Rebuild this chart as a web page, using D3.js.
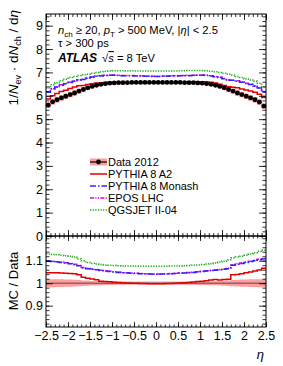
<!DOCTYPE html>
<html>
<head>
<meta charset="utf-8">
<script src="https://cdn.jsdelivr.net/npm/d3@7"></script>
<style>
  body { margin: 0; background: #fff; }
  svg text { font-family: "Liberation Sans", Arial, Helvetica, sans-serif; }
</style>
</head>
<body>
<div id="chart"></div>
<script>
// Bin centres in eta (bins of 0.1)
const etaBins = [-2.45, -2.35, -2.25, -2.15, -2.05, -1.95, -1.85, -1.75, -1.65, -1.55,
  -1.45, -1.35, -1.25, -1.15, -1.05, -0.95, -0.85, -0.75, -0.65, -0.55,
  -0.45, -0.35, -0.25, -0.15, -0.05, 0.05, 0.15, 0.25, 0.35, 0.45,
  0.55, 0.65, 0.75, 0.85, 0.95, 1.05, 1.15, 1.25, 1.35, 1.45,
  1.55, 1.65, 1.75, 1.85, 1.95, 2.05, 2.15, 2.25, 2.35, 2.45];

// Data 2012 and relative uncertainty
const data2012 = [5.60, 5.74, 5.83, 5.91, 5.98, 6.05, 6.12, 6.20, 6.27, 6.34,
  6.40, 6.45, 6.49, 6.52, 6.54, 6.55, 6.56, 6.56, 6.56, 6.57,
  6.57, 6.57, 6.57, 6.57, 6.57, 6.57, 6.57, 6.57, 6.57, 6.57,
  6.57, 6.56, 6.56, 6.56, 6.55, 6.54, 6.52, 6.49, 6.45, 6.40,
  6.34, 6.27, 6.20, 6.12, 6.05, 5.98, 5.91, 5.83, 5.73, 5.56];
const dataErr = [0.018, 0.018, 0.017, 0.017, 0.016, 0.016, 0.015, 0.014, 0.012, 0.011,
  0.010, 0.009, 0.009, 0.008, 0.008, 0.008, 0.007, 0.007, 0.007, 0.007,
  0.007, 0.007, 0.007, 0.007, 0.007, 0.007, 0.007, 0.007, 0.007, 0.007,
  0.007, 0.007, 0.007, 0.007, 0.008, 0.008, 0.008, 0.009, 0.009, 0.010,
  0.011, 0.012, 0.014, 0.015, 0.016, 0.016, 0.017, 0.017, 0.018, 0.018];

// MC predictions (top panel)
const pythiaA2 = [5.86, 6.00, 6.10, 6.18, 6.24, 6.31, 6.38, 6.43, 6.44, 6.48,
  6.52, 6.55, 6.55, 6.57, 6.58, 6.58, 6.58, 6.57, 6.57, 6.57,
  6.57, 6.56, 6.56, 6.56, 6.56, 6.56, 6.56, 6.56, 6.56, 6.57,
  6.58, 6.57, 6.58, 6.59, 6.60, 6.60, 6.59, 6.58, 6.55, 6.49,
  6.44, 6.39, 6.37, 6.34, 6.29, 6.25, 6.21, 6.15, 6.07, 5.93];
const pythiaMonash = [6.15, 6.29, 6.38, 6.45, 6.52, 6.57, 6.62, 6.68, 6.70, 6.75,
  6.80, 6.84, 6.85, 6.87, 6.88, 6.88, 6.87, 6.86, 6.86, 6.86,
  6.85, 6.85, 6.84, 6.84, 6.83, 6.83, 6.84, 6.84, 6.85, 6.85,
  6.86, 6.86, 6.86, 6.87, 6.88, 6.88, 6.87, 6.85, 6.82, 6.78,
  6.73, 6.67, 6.66, 6.62, 6.58, 6.53, 6.48, 6.41, 6.33, 6.16];
const eposLHC = [6.16, 6.30, 6.39, 6.47, 6.53, 6.58, 6.63, 6.69, 6.71, 6.76,
  6.80, 6.85, 6.87, 6.88, 6.89, 6.89, 6.88, 6.87, 6.87, 6.87,
  6.86, 6.86, 6.85, 6.85, 6.84, 6.84, 6.85, 6.85, 6.86, 6.86,
  6.87, 6.87, 6.88, 6.88, 6.89, 6.89, 6.88, 6.86, 6.83, 6.79,
  6.74, 6.68, 6.67, 6.64, 6.60, 6.54, 6.49, 6.42, 6.34, 6.17];
const qgsjet = [6.33, 6.47, 6.56, 6.64, 6.71, 6.78, 6.83, 6.87, 6.90, 6.92,
  6.96, 7.00, 7.03, 7.05, 7.06, 7.07, 7.07, 7.07, 7.06, 7.07,
  7.06, 7.06, 7.06, 7.06, 7.06, 7.06, 7.06, 7.06, 7.06, 7.06,
  7.07, 7.07, 7.08, 7.08, 7.08, 7.08, 7.07, 7.05, 7.03, 7.00,
  6.96, 6.92, 6.89, 6.83, 6.78, 6.72, 6.68, 6.62, 6.54, 6.38];

// MC / Data (bottom panel)
const ratioA2 = [1.047, 1.046, 1.046, 1.045, 1.044, 1.043, 1.042, 1.038, 1.026, 1.022,
  1.019, 1.015, 1.009, 1.007, 1.006, 1.004, 1.003, 1.002, 1.001, 1.000,
  1.000, 0.999, 0.999, 0.998, 0.998, 0.998, 0.998, 0.999, 0.999, 1.000,
  1.001, 1.002, 1.003, 1.005, 1.007, 1.009, 1.011, 1.014, 1.016, 1.014,
  1.016, 1.018, 1.037, 1.039, 1.042, 1.046, 1.050, 1.054, 1.059, 1.066];
const ratioMonash = [1.098, 1.096, 1.094, 1.092, 1.090, 1.086, 1.082, 1.078, 1.068, 1.064,
  1.062, 1.060, 1.056, 1.054, 1.052, 1.050, 1.048, 1.046, 1.045, 1.044,
  1.043, 1.042, 1.041, 1.041, 1.040, 1.040, 1.041, 1.041, 1.042, 1.043,
  1.044, 1.045, 1.046, 1.048, 1.050, 1.052, 1.054, 1.056, 1.058, 1.060,
  1.062, 1.064, 1.080, 1.084, 1.088, 1.092, 1.096, 1.100, 1.104, 1.108];
const ratioEpos = [1.100, 1.097, 1.095, 1.094, 1.091, 1.088, 1.084, 1.079, 1.070, 1.066,
  1.063, 1.061, 1.058, 1.055, 1.053, 1.051, 1.049, 1.047, 1.046, 1.045,
  1.044, 1.043, 1.042, 1.042, 1.041, 1.041, 1.042, 1.042, 1.043, 1.044,
  1.045, 1.046, 1.048, 1.049, 1.051, 1.053, 1.055, 1.057, 1.059, 1.061,
  1.063, 1.066, 1.081, 1.086, 1.090, 1.094, 1.098, 1.102, 1.106, 1.110];
const ratioQgsjet = [1.130, 1.128, 1.126, 1.124, 1.122, 1.120, 1.116, 1.108, 1.100, 1.092,
  1.088, 1.085, 1.083, 1.081, 1.080, 1.079, 1.078, 1.077, 1.076, 1.076,
  1.075, 1.075, 1.075, 1.075, 1.075, 1.075, 1.075, 1.075, 1.076, 1.076,
  1.077, 1.078, 1.079, 1.080, 1.081, 1.083, 1.085, 1.087, 1.090, 1.094,
  1.098, 1.104, 1.112, 1.116, 1.120, 1.124, 1.130, 1.136, 1.142, 1.148];

// Tick values
const etaTicks = [-2.5, -2, -1.5, -1, -0.5, 0, 0.5, 1, 1.5, 2, 2.5];
const yTicks = [0, 1, 2, 3, 4, 5, 6, 7, 8, 9];
const ratioTicks = [0.9, 1, 1.1];

const legendLabels = ["Data 2012", "PYTHIA 8 A2", "PYTHIA 8 Monash", "EPOS LHC", "QGSJET II-04"];

const colors = {
  band: "#ff9d9d",
  a2: "#e00000",
  monash: "#2a2aff",
  epos: "#e000e0",
  qgs: "#22aa22",
};

const mcSeries = [
  { name: legendLabels[1], top: pythiaA2, ratio: ratioA2, color: colors.a2, dash: null },
  { name: legendLabels[2], top: pythiaMonash, ratio: ratioMonash, color: colors.monash, dash: "6,2,1.5,2" },
  { name: legendLabels[3], top: eposLHC, ratio: ratioEpos, color: colors.epos, dash: "4,1.3,1.2,1.3,1.2,1.3" },
  { name: legendLabels[4], top: qgsjet, ratio: ratioQgsjet, color: colors.qgs, dash: "1.3,1.3" },
];

const width = 283, height = 366;
const left = 46, right = 266;
const topY0 = 14, topY1 = 236, botY1 = 327;
const halfBin = 0.05;

const svg = d3.select("#chart").append("svg")
  .attr("width", width)
  .attr("height", height);

const x = d3.scaleLinear().domain([-2.5, 2.5]).range([left, right]);
const y = d3.scaleLinear().domain([0, 9.5]).range([topY1, topY0]);
const yr = d3.scaleLinear().domain([0.805, 1.21]).range([botY1, topY1]);

const fmt = d => d3.format("~g")(d);

// step path through bin edges
function stepPoints(values) {
  const pts = [];
  etaBins.forEach((c, i) => {
    pts.push([c - halfBin, values[i]]);
    pts.push([c + halfBin, values[i]]);
  });
  return pts;
}

// band points: [eta, low, high]
function bandPoints(centre, err) {
  const pts = [];
  etaBins.forEach((c, i) => {
    const lo = centre[i] * (1 - err[i]), hi = centre[i] * (1 + err[i]);
    pts.push([c - halfBin, lo, hi]);
    pts.push([c + halfBin, lo, hi]);
  });
  return pts;
}

function drawTicks(g, yScale, y0, y1, majorY, minorStep, yMin, yMax, xLen, showYLabels) {
  // x ticks, bottom and top edges
  const xMinor = d3.range(-2.5, 2.5001, 0.1);
  g.append("g").attr("transform", `translate(0,${y1})`)
    .call(d3.axisBottom(x).tickValues(xMinor).tickSize(-xLen / 2).tickFormat(""));
  g.append("g").attr("transform", `translate(0,${y1})`)
    .call(d3.axisBottom(x).tickValues(etaTicks).tickSize(-xLen).tickFormat(""));
  g.append("g").attr("transform", `translate(0,${y0})`)
    .call(d3.axisTop(x).tickValues(xMinor).tickSize(-xLen / 2).tickFormat(""));
  g.append("g").attr("transform", `translate(0,${y0})`)
    .call(d3.axisTop(x).tickValues(etaTicks).tickSize(-xLen).tickFormat(""));

  const yMinor = d3.range(yMin, yMax + 1e-6, minorStep);
  g.append("g").attr("transform", `translate(${left},0)`)
    .call(d3.axisLeft(yScale).tickValues(yMinor).tickSize(-3.5).tickFormat(""));
  g.append("g").attr("class", "ylab").attr("transform", `translate(${left},0)`)
    .call(d3.axisLeft(yScale).tickValues(majorY).tickSize(-7).tickPadding(3)
      .tickFormat(showYLabels ? fmt : ""));
  g.append("g").attr("transform", `translate(${right},0)`)
    .call(d3.axisRight(yScale).tickValues(yMinor).tickSize(-3.5).tickFormat(""));
  g.append("g").attr("transform", `translate(${right},0)`)
    .call(d3.axisRight(yScale).tickValues(majorY).tickSize(-7).tickFormat(""));

  g.selectAll(".domain").remove();
  g.selectAll(".tick line").attr("stroke", "#000").attr("stroke-width", 0.8);
  g.selectAll(".ylab text").attr("font-size", 12.5).attr("fill", "#000");
}

// ---------- top panel ----------
const topG = svg.append("g");

// data uncertainty band
topG.append("path")
  .attr("d", d3.area().x(d => x(d[0])).y0(d => y(d[1])).y1(d => y(d[2]))(bandPoints(data2012, dataErr)))
  .attr("fill", colors.band)
  .attr("stroke", colors.band)
  .attr("stroke-width", 0.8);

const line = d3.line().x(d => x(d[0])).y(d => y(d[1]));

mcSeries.slice().reverse().forEach(s => {
  topG.append("path")
    .attr("d", line(stepPoints(s.top)))
    .attr("fill", "none")
    .attr("stroke", s.color)
    .attr("stroke-width", 1.5)
    .attr("stroke-dasharray", s.dash);
});

// data points
topG.append("g").selectAll("line")
  .data(etaBins)
  .join("line")
  .attr("x1", d => x(d - halfBin))
  .attr("x2", d => x(d + halfBin))
  .attr("y1", (d, i) => y(data2012[i]))
  .attr("y2", (d, i) => y(data2012[i]))
  .attr("stroke", "#000")
  .attr("stroke-width", 1);
topG.append("g").selectAll("circle")
  .data(etaBins)
  .join("circle")
  .attr("cx", d => x(d))
  .attr("cy", (d, i) => y(data2012[i]))
  .attr("r", 2.4)
  .attr("fill", "#000");

drawTicks(topG, y, topY0, topY1, yTicks, 0.2, 0, 9.4, 6, true);

topG.append("rect")
  .attr("x", left).attr("y", topY0)
  .attr("width", right - left).attr("height", topY1 - topY0)
  .attr("fill", "none").attr("stroke", "#000").attr("stroke-width", 1);

// annotations
const ann = topG.append("g").attr("font-size", 11.2).attr("fill", "#000");
const t1 = ann.append("text").attr("x", 58).attr("y", 34);
t1.append("tspan").attr("font-style", "italic").text("n");
t1.append("tspan").attr("font-size", 8).attr("dy", 2.5).text("ch");
t1.append("tspan").attr("dy", -2.5).text(" \u2265 20, ");
t1.append("tspan").attr("font-style", "italic").text("p");
t1.append("tspan").attr("font-size", 8).attr("dy", 2.5).text("T");
t1.append("tspan").attr("dy", -2.5).text(" > 500 MeV, |");
t1.append("tspan").attr("font-style", "italic").text("\u03b7");
t1.append("tspan").text("| < 2.5");
ann.append("text").attr("x", 58).attr("y", 47).text("\u03c4 > 300 ps");
const t3 = ann.append("text").attr("x", 58).attr("y", 62);
t3.append("tspan").attr("font-weight", "bold").attr("font-style", "italic").attr("font-size", 12).text("ATLAS");
t3.append("tspan").attr("dx", 5).text("\u221a");
t3.append("tspan").attr("font-style", "italic").attr("text-decoration", "overline").text("s");
t3.append("tspan").text(" = 8 TeV");

// legend
const leg = topG.append("g").attr("font-size", 11).attr("fill", "#000");
const legX0 = 90, legX1 = 107, legTextX = 108;
const legRows = [162, 174, 186, 198, 210];
leg.append("rect")
  .attr("x", legX0).attr("y", legRows[0] - 3.5)
  .attr("width", legX1 - legX0).attr("height", 7)
  .attr("fill", colors.band);
leg.append("line")
  .attr("x1", legX0).attr("x2", legX1)
  .attr("y1", legRows[0]).attr("y2", legRows[0])
  .attr("stroke", "#000").attr("stroke-width", 1.2);
leg.append("circle")
  .attr("cx", (legX0 + legX1) / 2).attr("cy", legRows[0])
  .attr("r", 2.4).attr("fill", "#000");
leg.append("text").attr("x", legTextX).attr("y", legRows[0] + 4).text(legendLabels[0]);
mcSeries.forEach((s, i) => {
  const ry = legRows[i + 1];
  leg.append("line")
    .attr("x1", legX0).attr("x2", legX1)
    .attr("y1", ry).attr("y2", ry)
    .attr("stroke", s.color).attr("stroke-width", 1.5)
    .attr("stroke-dasharray", s.dash);
  leg.append("text").attr("x", legTextX).attr("y", ry + 4).text(s.name);
});

// y title
const yt = svg.append("text")
  .attr("transform", `translate(18,10) rotate(-90)`)
  .attr("text-anchor", "end")
  .attr("font-size", 13.5)
  .attr("fill", "#000");
yt.append("tspan").text("1/");
yt.append("tspan").attr("font-style", "italic").text("N");
yt.append("tspan").attr("font-size", 9).attr("dy", 3).text("ev");
yt.append("tspan").attr("dy", -3).text(" \u00b7 d");
yt.append("tspan").attr("font-style", "italic").text("N");
yt.append("tspan").attr("font-size", 9).attr("dy", 3).text("ch");
yt.append("tspan").attr("dy", -3).text(" / d");
yt.append("tspan").attr("font-style", "italic").text("\u03b7");

// ---------- ratio panel ----------
const botG = svg.append("g");

botG.append("path")
  .attr("d", d3.area().x(d => x(d[0])).y0(d => yr(d[1])).y1(d => yr(d[2]))(bandPoints(etaBins.map(() => 1), dataErr)))
  .attr("fill", colors.band);

botG.append("line")
  .attr("x1", left).attr("x2", right)
  .attr("y1", yr(1)).attr("y2", yr(1))
  .attr("stroke", "#333").attr("stroke-width", 0.8);

const rline = d3.line().x(d => x(d[0])).y(d => yr(d[1]));
mcSeries.slice().reverse().forEach(s => {
  botG.append("path")
    .attr("d", rline(stepPoints(s.ratio)))
    .attr("fill", "none")
    .attr("stroke", s.color)
    .attr("stroke-width", 1.5)
    .attr("stroke-dasharray", s.dash);
});

drawTicks(botG, yr, topY1, botY1, ratioTicks, 0.02, 0.82, 1.2, 5, true);

botG.append("rect")
  .attr("x", left).attr("y", topY1)
  .attr("width", right - left).attr("height", botY1 - topY1)
  .attr("fill", "none").attr("stroke", "#000").attr("stroke-width", 1);

// x tick labels
const xl = botG.append("g").attr("transform", `translate(0,${botY1})`)
  .call(d3.axisBottom(x).tickValues(etaTicks).tickSize(0).tickPadding(4).tickFormat(fmt));
xl.select(".domain").remove();
xl.selectAll("text").attr("font-size", 12.5).attr("fill", "#000");

svg.append("text")
  .attr("x", 264).attr("y", 359)
  .attr("text-anchor", "end")
  .attr("font-size", 13)
  .attr("font-style", "italic")
  .text("\u03b7");

svg.append("text")
  .attr("transform", `translate(18,281) rotate(-90)`)
  .attr("text-anchor", "middle")
  .attr("font-size", 13)
  .text("MC / Data");
</script>
</body>
</html>
